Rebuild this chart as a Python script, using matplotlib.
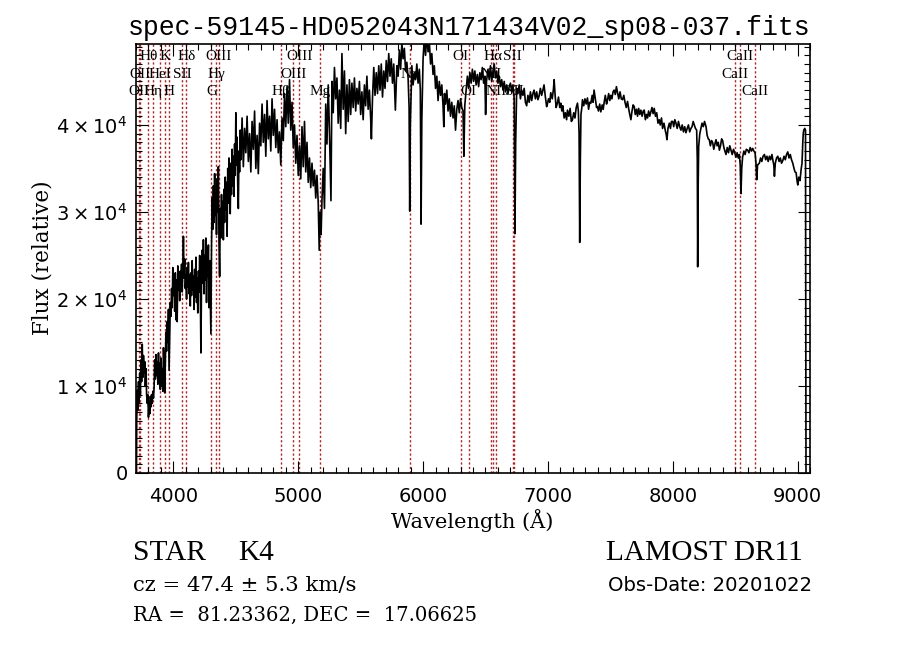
"""
LAMOST spectrum plot: spec-59145-HD052043N171434V02_sp08-037.fits
"""
import matplotlib
matplotlib.use("Agg")
import matplotlib.pyplot as plt
import matplotlib.transforms as mtransforms
from matplotlib.ticker import MultipleLocator
import numpy as np

W, H = 900, 649
C_LINE = "#B22222"

# Spectrum (flux in units of 1e3)
BLUE_WAVE = [
    3704, 3706,
    3710, 3715, 3720, 3725, 3730, 3735, 3740, 3745, 3750, 3755,
    3760, 3765, 3770, 3775, 3780, 3785, 3790, 3795, 3800, 3805,
    3810, 3815, 3820, 3825, 3830, 3835, 3840, 3845, 3850, 3855,
    3860, 3865, 3870, 3875, 3880, 3885, 3890, 3895, 3900, 3905,
    3910, 3915, 3920, 3925, 3930, 3935, 3940, 3945, 3950, 3955,
    3960, 3965, 3970, 3975, 3980, 3985, 3990, 3995, 4000, 4005,
    4010, 4015, 4020, 4025, 4030, 4035, 4040, 4045, 4050, 4055,
    4060, 4065, 4070, 4075, 4080, 4085, 4090, 4095, 4100, 4105,
    4110, 4115, 4120, 4125, 4130, 4135, 4140, 4145, 4150, 4155,
    4160, 4165, 4170, 4175, 4180, 4185, 4190, 4195, 4200, 4205,
    4210, 4215, 4220, 4225, 4230, 4235, 4240, 4245, 4250, 4255,
    4260, 4265, 4270, 4275, 4280, 4285, 4290, 4295, 4300, 4305,
    4310, 4315, 4320, 4325, 4330, 4335, 4340, 4345, 4350, 4355,
    4360, 4365, 4370, 4375, 4380, 4385, 4390, 4395, 4400, 4405,
    4410, 4415, 4420, 4425, 4430, 4435, 4440, 4445, 4450, 4455,
    4460, 4465, 4470, 4475, 4480, 4485, 4490, 4495, 4500, 4505,
    4510, 4515, 4520, 4525, 4530, 4535,
]
BLUE_FLUX = [
    0.0, 6.0,
    9.5, 7.2, 10.5, 8.0, 11.5, 9.0, 13.0, 10.5, 14.8, 11.0,
    13.5, 11.5, 12.8, 10.0, 12.0, 9.0, 8.0, 9.0, 6.4, 8.2,
    6.8, 8.8, 7.6, 9.0, 8.0, 9.4, 8.6, 9.8, 13.0, 10.8,
    13.6, 11.2, 12.8, 10.2, 13.8, 11.0, 12.6, 9.6, 13.2, 10.0,
    12.0, 9.4, 14.4, 12.2, 9.2, 13.0, 16.2, 14.0, 17.4, 15.0,
    18.8, 11.8, 15.6, 19.6, 18.0, 21.2, 19.0, 23.6, 20.4, 22.8,
    18.6, 23.0, 17.6, 22.2, 17.4, 23.8, 21.0, 22.6, 19.8, 23.2,
    21.6, 24.0, 20.8, 23.4, 27.2, 22.4, 24.6, 21.2, 22.8, 20.0,
    23.6, 21.4, 24.2, 20.6, 22.8, 19.2, 23.0, 20.4, 24.4, 21.0,
    22.6, 18.8, 23.4, 20.2, 24.8, 19.6, 22.4, 18.4, 23.2, 20.8,
    25.0, 21.6, 13.8, 22.0, 25.6, 21.8, 26.8, 20.6, 25.0, 22.2,
    27.0, 19.6, 25.8, 22.6, 26.2, 19.0, 24.4, 20.2, 16.0, 26.0,
    31.6, 28.0, 33.0, 28.8, 34.4, 29.6, 32.2, 27.4, 33.8, 30.0,
    35.2, 26.4, 22.6, 30.4, 27.0, 32.0, 28.4, 31.2, 26.8, 32.6,
    28.8, 34.0, 30.2, 33.4, 27.2, 35.0, 31.0, 36.2, 32.4, 29.8,
    35.6, 32.0, 37.2, 33.0, 36.4, 31.8, 37.8, 34.2, 41.4, 35.4,
    38.6, 33.2, 30.4, 37.0, 34.6, 39.4,
]

GREEN_WAVE = [
    4540, 4550, 4560, 4570, 4580, 4590, 4600, 4610, 4620, 4630,
    4640, 4650, 4660, 4670, 4680, 4690, 4700, 4710, 4720, 4730,
    4740, 4750, 4760, 4770, 4780, 4790, 4800, 4810, 4820, 4830,
    4840, 4850, 4860, 4870, 4880, 4890, 4900, 4910, 4920, 4930,
    4940, 4950, 4960, 4970, 4980, 4990, 5000, 5010, 5020, 5030,
    5040, 5050, 5060, 5070, 5080, 5090, 5100, 5110, 5120, 5130,
    5140, 5150, 5160, 5168, 5175, 5183, 5190, 5200, 5210, 5220,
    5230, 5240, 5250, 5262, 5270, 5280, 5290, 5300, 5310, 5320,
    5330, 5340, 5350, 5360, 5370, 5380, 5390, 5400, 5410, 5420,
    5430, 5440, 5450, 5460, 5470, 5480, 5490, 5500, 5510, 5520,
    5530, 5540, 5550, 5560, 5570, 5580, 5586, 5595, 5605, 5615,
    5625, 5635, 5645, 5655, 5665, 5675, 5685, 5695, 5705, 5715,
    5725, 5735, 5745, 5755, 5765, 5778, 5790, 5800, 5810, 5820,
    5830, 5840, 5850, 5860, 5870, 5880, 5888, 5893, 5898, 5910,
    5920, 5930, 5940, 5950, 5960, 5970, 5978, 5984, 5990, 6000,
    6010, 6020, 6030, 6040, 6050, 6060, 6070, 6080, 6090, 6100,
    6110, 6120, 6130, 6140, 6150, 6160, 6166, 6172, 6180, 6190,
    6200, 6210, 6220, 6230, 6240, 6250, 6260, 6270, 6280, 6290,
    6300, 6310, 6320, 6327, 6334, 6345, 6355, 6365, 6375, 6385,
    6395, 6405, 6415, 6425, 6435, 6445, 6455, 6465, 6475, 6485,
    6495, 6501, 6508, 6520, 6530, 6540, 6550, 6560, 6570, 6580,
    6590, 6600, 6610, 6620, 6630, 6640, 6650, 6660, 6670, 6680,
    6690, 6700, 6710, 6720, 6730, 6736, 6742, 6750, 6760, 6770,
    6780, 6790, 6800, 6810, 6820, 6830, 6840, 6850, 6860,
]
GREEN_FLUX = [
    36.0, 40.8, 35.2, 39.6, 36.8, 41.0, 35.8, 39.0, 34.6, 40.4,
    37.2, 41.6, 35.0, 38.8, 34.4, 40.2, 37.6, 42.4, 38.0, 41.2,
    36.4, 42.8, 38.4, 41.0, 37.0, 43.0, 38.8, 41.8, 37.4, 40.6,
    36.8, 39.2, 35.4, 40.8, 38.2, 43.6, 39.8, 44.4, 40.2, 45.2,
    39.4, 42.6, 37.4, 40.0, 35.6, 38.8, 34.2, 37.6, 33.8, 39.8,
    35.2, 40.4, 34.6, 38.0, 33.4, 36.2, 32.8, 35.6, 33.0, 34.8,
    31.6, 34.2, 31.0, 25.6, 30.0, 27.4, 31.4, 35.0, 30.4, 42.4,
    37.8, 44.6, 39.2, 31.3, 45.0, 41.4, 46.6, 43.0, 45.4, 40.2,
    44.0, 39.6, 48.2, 41.8, 46.2, 39.0, 44.6, 40.4, 45.2, 41.2,
    44.8, 42.0, 45.4, 41.6, 44.2, 42.4, 45.0, 41.2, 43.8, 40.6,
    44.6, 42.2, 45.6, 41.8, 44.0, 40.8, 38.4, 43.2, 46.6, 43.4,
    46.0, 43.6, 46.8, 44.0, 47.0, 43.2, 46.2, 44.2, 47.4, 45.0,
    48.2, 45.6, 47.6, 44.8, 47.0, 41.7, 46.8, 45.6, 48.6, 46.4,
    49.4, 47.6, 48.8, 46.2, 47.2, 45.4, 42.0, 30.1, 40.0, 46.8,
    44.6, 46.0, 45.2, 47.0, 44.8, 46.4, 44.0, 28.6, 40.6, 47.6,
    49.8, 48.0, 50.5, 48.4, 49.6, 47.0, 48.2, 45.8, 46.8, 44.2,
    45.6, 42.8, 45.0, 43.4, 44.6, 42.2, 39.8, 43.6, 42.4, 44.0,
    41.6, 43.0, 41.0, 42.6, 40.8, 42.2, 39.4, 41.8, 42.8, 41.4,
    43.0, 42.0, 41.6, 36.4, 42.2, 44.0, 45.6, 44.2, 46.0, 44.8,
    46.4, 45.0, 46.2, 44.6, 45.8, 44.4, 46.0, 45.2, 46.6, 44.8,
    45.6, 41.2, 45.0, 46.4, 45.2, 46.8, 45.0, 46.2, 47.0, 45.4,
    46.2, 44.8, 45.6, 44.4, 45.2, 44.0, 45.0, 43.8, 44.6, 43.6,
    44.4, 44.8, 43.8, 44.6, 43.0, 27.5, 38.0, 44.2, 43.6, 44.6,
    43.0, 44.0, 43.4, 44.2, 42.6, 42.2, 43.4, 42.6, 43.8,
]

RED_WAVE = [
    6870, 6880, 6889, 6900, 6910, 6920, 6929, 6940, 6950, 6960,
    6969, 6980, 6990, 6996, 7005, 7015, 7023, 7035, 7045, 7050,
    7058, 7066, 7076, 7085, 7095, 7103, 7112, 7120, 7130, 7140,
    7150, 7157, 7168, 7178, 7188, 7197, 7207, 7217, 7227, 7237,
    7244, 7250, 7255, 7260, 7265, 7272, 7277, 7287, 7297, 7307,
    7317, 7326, 7335, 7344, 7355, 7362, 7370, 7380, 7390, 7397,
    7405, 7415, 7424, 7435, 7443, 7451, 7460, 7470, 7478, 7487,
    7496, 7504, 7513, 7522, 7531, 7540, 7549, 7558, 7568, 7578,
    7588, 7598, 7608, 7618, 7628, 7638, 7648, 7656, 7665, 7674,
    7683, 7692, 7700, 7710, 7718, 7727, 7736, 7745, 7755, 7764,
    7772, 7781, 7790, 7798, 7807, 7816, 7825, 7834, 7843, 7852,
    7862, 7872, 7882, 7892, 7900, 7910, 7919, 7930, 7940, 7948,
    7954, 7962, 7973, 7982, 7990, 8000, 8008, 8017, 8026, 8036,
    8046, 8056, 8066, 8076, 8086, 8096, 8106, 8116, 8126, 8136,
    8146, 8155, 8164, 8173, 8182, 8192, 8197, 8200, 8204, 8208,
    8217, 8226, 8235, 8245, 8255, 8267, 8276, 8285, 8293, 8302,
    8311, 8320, 8329, 8338, 8347, 8356, 8365, 8374, 8383, 8392,
    8400, 8410, 8418, 8427, 8437, 8447, 8457, 8467, 8477, 8487,
    8497, 8507, 8516, 8525, 8534, 8541, 8547, 8553, 8560, 8570,
    8580, 8590, 8601, 8611, 8621, 8631, 8641, 8650, 8660, 8667,
    8673, 8680, 8694, 8704, 8714, 8724, 8735, 8745, 8755, 8765,
    8775, 8785, 8795, 8802, 8810, 8815, 8822, 8832, 8842, 8852,
    8862, 8872, 8882, 8892, 8902, 8912, 8922, 8932, 8942, 8952,
    8962, 8972, 8980, 8989, 8996, 9002, 9010, 9020, 9029, 9036,
    9042, 9046, 9050, 9058, 9064, 9068,
]
RED_FLUX = [
    42.8, 43.6, 44.0, 43.0, 43.8, 42.9, 43.3, 44.2, 43.4, 44.0,
    44.6, 43.2, 42.1, 42.4, 43.0, 42.6, 43.7, 43.0, 44.2, 45.2,
    43.4, 42.0, 42.5, 43.2, 42.0, 42.5, 41.6, 42.2, 40.8, 41.4,
    40.6, 41.7, 41.0, 41.9, 40.4, 40.6, 41.4, 40.8, 42.0, 42.5,
    41.6, 39.0, 26.5, 36.0, 41.2, 42.0, 42.9, 42.2, 43.0, 42.4,
    43.1, 41.8, 42.6, 42.5, 43.4, 42.6, 44.0, 43.0, 42.0, 42.1,
    41.6, 42.4, 41.5, 42.3, 41.8, 42.6, 43.4, 42.4, 42.9, 43.6,
    42.8, 43.4, 43.0, 43.8, 44.0, 43.5, 44.4, 43.7, 43.0, 43.8,
    43.0, 42.9, 43.4, 42.6, 42.0, 42.7, 41.8, 41.2, 40.6, 41.6,
    42.3, 42.1, 41.2, 41.8, 41.0, 41.9, 41.2, 41.7, 41.0, 41.6,
    41.7, 40.6, 41.2, 40.8, 41.6, 41.0, 41.5, 42.0, 41.3, 41.9,
    41.0, 41.4, 40.2, 40.6, 40.0, 40.8, 39.6, 40.2, 39.4, 38.9,
    38.3, 39.6, 40.2, 39.6, 40.4, 40.4, 39.8, 40.6, 40.2, 39.6,
    40.4, 39.8, 39.4, 40.0, 39.2, 39.8, 39.1, 39.6, 40.0, 39.2,
    39.6, 39.8, 40.4, 40.0, 39.6, 39.4, 36.0, 23.7, 33.0, 37.5,
    39.0, 39.6, 40.2, 39.8, 40.4, 39.8, 38.8, 38.4, 38.3, 37.6,
    38.2, 38.0, 37.2, 37.8, 38.3, 37.6, 38.0, 37.1, 37.6, 38.4,
    38.2, 37.4, 37.0, 36.6, 37.4, 36.8, 37.6, 37.1, 36.6, 37.2,
    36.8, 36.3, 36.8, 36.2, 36.6, 35.4, 32.1, 35.0, 36.3, 37.0,
    36.6, 37.2, 37.1, 36.8, 37.4, 37.0, 37.3, 37.0, 36.8, 35.6,
    33.7, 35.4, 35.6, 36.2, 35.8, 36.4, 36.6, 36.0, 36.4, 35.8,
    36.4, 36.0, 36.6, 36.0, 35.4, 34.1, 35.6, 36.2, 36.4, 35.8,
    36.2, 35.6, 35.9, 36.4, 36.0, 36.6, 36.9, 36.2, 36.6, 36.0,
    35.6, 35.0, 34.6, 34.5, 33.6, 33.1, 34.0, 33.6, 34.9, 35.6,
    37.9, 39.0, 39.4, 39.6, 39.4, 0.0,
]

# Spectral line markers
LINE_WAVE = [3726, 3729, 3798, 3835, 3889, 3934, 3968, 4068, 4102, 4304,
             4341, 4363, 4861, 4959, 5007, 5175, 5893, 6300, 6364, 6548,
             6563, 6583, 6717, 6731, 8498, 8542, 8662]
LINE_NAME = ["OII", "OII", "Hθ", "Hη", "HeI", "K", "H", "SII", "Hδ", "G",
             "Hγ", "OIII", "Hβ", "OIII", "OIII", "Mg", "Na", "OI", "OI", "NII",
             "Hα", "NII", "SII", "SII", "CaII", "CaII", "CaII"]
LINE_ROW = [3, 2, 1, 3, 2, 1, 3, 2, 1, 3,
            2, 1, 3, 2, 1, 3, 2, 1, 3, 2,
            1, 3, 1, 3, 2, 1, 3]
ROW_Y = {1: 0.970, 2: 0.929, 3: 0.889}

YTICKS = [0, 10000, 20000, 30000, 40000]
YTICK_LABELS = ["0", r"$1\times10^{4}$", r"$2\times10^{4}$",
                r"$3\times10^{4}$", r"$4\times10^{4}$"]


def fit_text(fig, renderer, x0, x1, y_base, s, family, size=14):
    """Place text at pixel coords and scale its size to span x0..x1."""
    t = fig.text(x0 / W, 1 - y_base / H, s, ha="left", va="baseline",
                 family=family, fontsize=size)
    w = t.get_window_extent(renderer).width
    t.set_fontsize(size * (x1 - x0) / w)
    return t


def main() -> None:
    wave = np.array(BLUE_WAVE + GREEN_WAVE + RED_WAVE, dtype=float)
    flux = np.array(BLUE_FLUX + GREEN_FLUX + RED_FLUX) * 1000.0

    fig = plt.figure(figsize=(W / 100, H / 100), dpi=100)
    fig.patch.set_facecolor("white")
    ax = fig.add_axes([136 / W, 1 - 473 / H, 674 / W, 429 / H])

    for w in LINE_WAVE:
        ax.axvline(w, color=C_LINE, lw=1.0, ls=(0, (1.6, 1.6)), zorder=1)

    ax.plot(wave, flux, color="black", lw=1.2, zorder=3)

    trans = mtransforms.blended_transform_factory(ax.transData, ax.transAxes)
    for w, name, row in zip(LINE_WAVE, LINE_NAME, LINE_ROW):
        ax.text(w, ROW_Y[row], name, transform=trans, ha="center", va="center",
                family="Liberation Serif", fontsize=11, zorder=4)

    ax.set_xlim(3700, 9100)
    ax.set_ylim(0, 49300)
    ax.xaxis.set_major_locator(MultipleLocator(1000))
    ax.xaxis.set_minor_locator(MultipleLocator(100))
    ax.set_yticks(YTICKS, YTICK_LABELS)
    ax.yaxis.set_minor_locator(MultipleLocator(1000))
    ax.tick_params(which="both", direction="in", top=True, right=True,
                   width=0.8, color="black")
    ax.tick_params(which="major", length=8.5)
    ax.tick_params(which="minor", length=4.5)
    ax.tick_params(axis="x", labelsize=14, pad=10)
    ax.tick_params(axis="y", labelsize=14, pad=6)
    for sp in ax.spines.values():
        sp.set_linewidth(1.2)

    fig.text(472 / W, 1 - 521 / H, "Wavelength (Å)", ha="center", va="center",
             family="DejaVu Serif", fontsize=15)
    fig.text(43 / W, 1 - 258 / H, "Flux (relative)", ha="center", va="center",
             rotation=90, family="DejaVu Serif", fontsize=15.5)

    renderer = fig.canvas.get_renderer()
    fit_text(fig, renderer, 128, 817, 35,
             "spec-59145-HD052043N171434V02_sp08-037.fits", "Liberation Mono")
    lamost = fit_text(fig, renderer, 606, 804, 560, "LAMOST DR11",
                      "Liberation Serif")
    row1_size = lamost.get_fontsize()
    fig.text(133 / W, 1 - 560 / H, "STAR", ha="left", va="baseline",
             family="Liberation Serif", fontsize=row1_size)
    fig.text(238 / W, 1 - 560 / H, "K4", ha="left", va="baseline",
             family="Liberation Serif", fontsize=row1_size)
    fit_text(fig, renderer, 133, 358, 591, "cz = 47.4 ± 5.3 km/s", "DejaVu Serif")
    fit_text(fig, renderer, 608, 813, 591, "Obs-Date: 20201022", "DejaVu Sans")
    fit_text(fig, renderer, 133, 478, 621,
             "RA =  81.23362, DEC =  17.06625", "DejaVu Serif")

    fig.savefig("out.png", dpi=100)
    plt.close(fig)


if __name__ == "__main__":
    main()
